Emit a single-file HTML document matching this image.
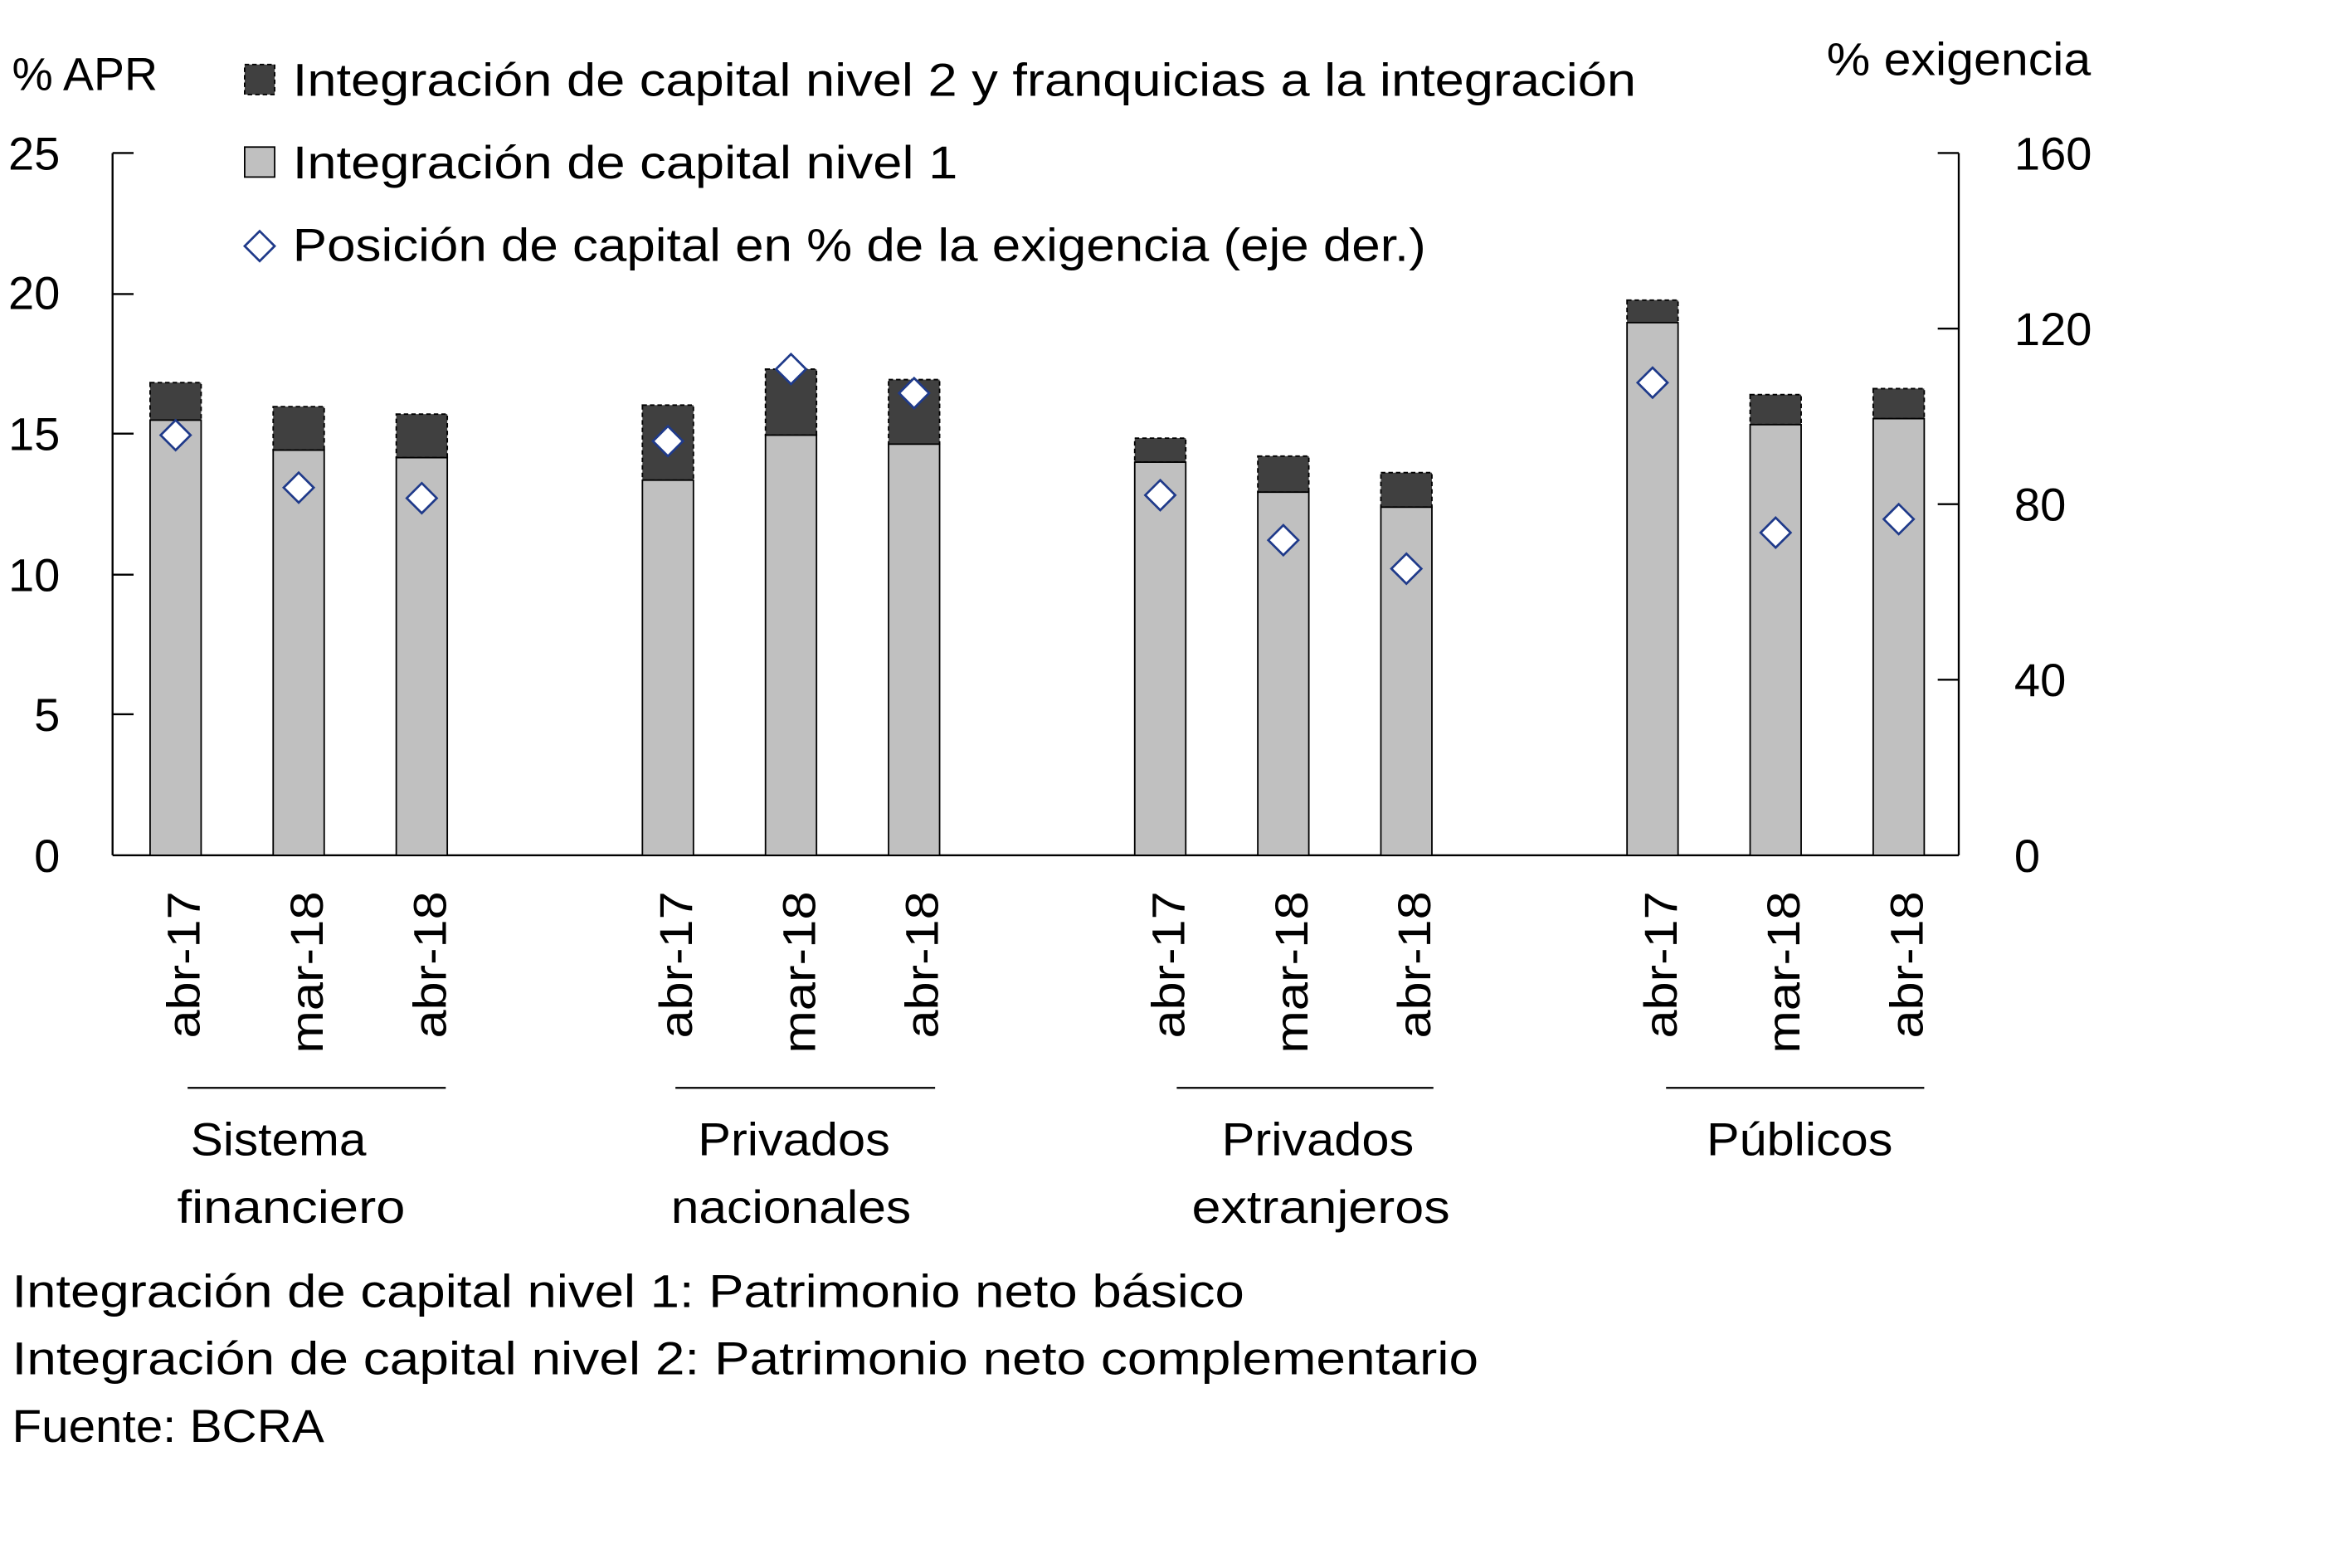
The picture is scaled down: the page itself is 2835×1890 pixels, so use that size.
<!DOCTYPE html>
<html><head><meta charset="utf-8"><style>
html,body{margin:0;padding:0;background:#fff;}
svg{display:block;}
text{font-family:"Liberation Sans",sans-serif;fill:#000;}
</style></head><body>
<svg width="2835" height="1890" viewBox="0 0 1567 1045" preserveAspectRatio="none" xmlns="http://www.w3.org/2000/svg">
<g font-size="31">
<text x="8" y="60" textLength="97" lengthAdjust="spacingAndGlyphs">% APR</text>
<text x="1217" y="50" textLength="176" lengthAdjust="spacingAndGlyphs">% exigencia</text>
<text x="40" y="113" text-anchor="end">25</text>
<text x="40" y="206" text-anchor="end">20</text>
<text x="40" y="300" text-anchor="end">15</text>
<text x="40" y="394" text-anchor="end">10</text>
<text x="40" y="487" text-anchor="end">5</text>
<text x="40" y="581" text-anchor="end">0</text>
<text x="1342" y="113">160</text>
<text x="1342" y="230">120</text>
<text x="1342" y="347">80</text>
<text x="1342" y="464">40</text>
<text x="1342" y="581">0</text>
</g>
<g stroke="#000" stroke-width="1.3" fill="none">
<line x1="75" y1="102" x2="75" y2="570"/>
<line x1="1305" y1="102" x2="1305" y2="570"/>
<line x1="75" y1="570" x2="1305" y2="570"/>
<line x1="75" y1="102" x2="89" y2="102"/><line x1="75" y1="196" x2="89" y2="196"/><line x1="75" y1="289" x2="89" y2="289"/><line x1="75" y1="383" x2="89" y2="383"/><line x1="75" y1="476" x2="89" y2="476"/>
<line x1="1291" y1="102" x2="1305" y2="102"/><line x1="1291" y1="219" x2="1305" y2="219"/><line x1="1291" y1="336" x2="1305" y2="336"/><line x1="1291" y1="453" x2="1305" y2="453"/>
<line x1="125" y1="725" x2="297" y2="725"/><line x1="450" y1="725" x2="623" y2="725"/><line x1="784" y1="725" x2="955" y2="725"/><line x1="1110" y1="725" x2="1282" y2="725"/>
</g>
<g stroke="#000" stroke-width="1">
<rect x="100" y="255" width="34" height="25" fill="#404040" stroke-dasharray="3,2"/><rect x="100" y="280" width="34" height="290" fill="#c0c0c0"/>
<rect x="182" y="271" width="34" height="29" fill="#404040" stroke-dasharray="3,2"/><rect x="182" y="300" width="34" height="270" fill="#c0c0c0"/>
<rect x="264" y="276" width="34" height="29" fill="#404040" stroke-dasharray="3,2"/><rect x="264" y="305" width="34" height="265" fill="#c0c0c0"/>
<rect x="428" y="270" width="34" height="50" fill="#404040" stroke-dasharray="3,2"/><rect x="428" y="320" width="34" height="250" fill="#c0c0c0"/>
<rect x="510" y="246" width="34" height="44" fill="#404040" stroke-dasharray="3,2"/><rect x="510" y="290" width="34" height="280" fill="#c0c0c0"/>
<rect x="592" y="253" width="34" height="43" fill="#404040" stroke-dasharray="3,2"/><rect x="592" y="296" width="34" height="274" fill="#c0c0c0"/>
<rect x="756" y="292" width="34" height="16" fill="#404040" stroke-dasharray="3,2"/><rect x="756" y="308" width="34" height="262" fill="#c0c0c0"/>
<rect x="838" y="304" width="34" height="24" fill="#404040" stroke-dasharray="3,2"/><rect x="838" y="328" width="34" height="242" fill="#c0c0c0"/>
<rect x="920" y="315" width="34" height="23" fill="#404040" stroke-dasharray="3,2"/><rect x="920" y="338" width="34" height="232" fill="#c0c0c0"/>
<rect x="1084" y="200" width="34" height="15" fill="#404040" stroke-dasharray="3,2"/><rect x="1084" y="215" width="34" height="355" fill="#c0c0c0"/>
<rect x="1166" y="263" width="34" height="20" fill="#404040" stroke-dasharray="3,2"/><rect x="1166" y="283" width="34" height="287" fill="#c0c0c0"/>
<rect x="1248" y="259" width="34" height="20" fill="#404040" stroke-dasharray="3,2"/><rect x="1248" y="279" width="34" height="291" fill="#c0c0c0"/>
</g>
<g fill="#fff" stroke="#1f3a8a" stroke-width="1.5">
<path d="M117 280 l10 10 l-10 10 l-10 -10z"/>
<path d="M199 315 l10 10 l-10 10 l-10 -10z"/>
<path d="M281 322 l10 10 l-10 10 l-10 -10z"/>
<path d="M445 284 l10 10 l-10 10 l-10 -10z"/>
<path d="M527 236 l10 10 l-10 10 l-10 -10z"/>
<path d="M609 252 l10 10 l-10 10 l-10 -10z"/>
<path d="M773 320 l10 10 l-10 10 l-10 -10z"/>
<path d="M855 350 l10 10 l-10 10 l-10 -10z"/>
<path d="M937 369 l10 10 l-10 10 l-10 -10z"/>
<path d="M1101 245 l10 10 l-10 10 l-10 -10z"/>
<path d="M1183 345 l10 10 l-10 10 l-10 -10z"/>
<path d="M1265 336 l10 10 l-10 10 l-10 -10z"/>
</g>
<rect x="163" y="43" width="20" height="20" fill="#404040" stroke="#000" stroke-dasharray="3,2"/>
<rect x="163" y="98" width="20" height="20" fill="#c0c0c0" stroke="#000"/>
<path d="M173 154 l10 10 l-10 10 l-10 -10z" fill="#fff" stroke="#1f3a8a" stroke-width="1.5"/>
<g font-size="31">
<text x="195" y="64" textLength="895" lengthAdjust="spacingAndGlyphs">Integración de capital nivel 2 y franquicias a la integración</text>
<text x="195" y="119" textLength="443" lengthAdjust="spacingAndGlyphs">Integración de capital nivel 1</text>
<text x="195" y="174" textLength="755" lengthAdjust="spacingAndGlyphs">Posición de capital en % de la exigencia (eje der.)</text>
</g>
<g font-size="31">
<text transform="translate(133,594) rotate(-90)" text-anchor="end" textLength="98" lengthAdjust="spacingAndGlyphs">abr-17</text>
<text transform="translate(215,594) rotate(-90)" text-anchor="end" textLength="108" lengthAdjust="spacingAndGlyphs">mar-18</text>
<text transform="translate(297,594) rotate(-90)" text-anchor="end" textLength="98" lengthAdjust="spacingAndGlyphs">abr-18</text>
<text transform="translate(461,594) rotate(-90)" text-anchor="end" textLength="98" lengthAdjust="spacingAndGlyphs">abr-17</text>
<text transform="translate(543,594) rotate(-90)" text-anchor="end" textLength="108" lengthAdjust="spacingAndGlyphs">mar-18</text>
<text transform="translate(625,594) rotate(-90)" text-anchor="end" textLength="98" lengthAdjust="spacingAndGlyphs">abr-18</text>
<text transform="translate(789,594) rotate(-90)" text-anchor="end" textLength="98" lengthAdjust="spacingAndGlyphs">abr-17</text>
<text transform="translate(871,594) rotate(-90)" text-anchor="end" textLength="108" lengthAdjust="spacingAndGlyphs">mar-18</text>
<text transform="translate(953,594) rotate(-90)" text-anchor="end" textLength="98" lengthAdjust="spacingAndGlyphs">abr-18</text>
<text transform="translate(1117,594) rotate(-90)" text-anchor="end" textLength="98" lengthAdjust="spacingAndGlyphs">abr-17</text>
<text transform="translate(1199,594) rotate(-90)" text-anchor="end" textLength="108" lengthAdjust="spacingAndGlyphs">mar-18</text>
<text transform="translate(1281,594) rotate(-90)" text-anchor="end" textLength="98" lengthAdjust="spacingAndGlyphs">abr-18</text>
<text x="127" y="770" textLength="117" lengthAdjust="spacingAndGlyphs">Sistema</text>
<text x="118" y="815" textLength="152" lengthAdjust="spacingAndGlyphs">financiero</text>
<text x="465" y="770" textLength="128" lengthAdjust="spacingAndGlyphs">Privados</text>
<text x="447" y="815" textLength="160" lengthAdjust="spacingAndGlyphs">nacionales</text>
<text x="814" y="770" textLength="128" lengthAdjust="spacingAndGlyphs">Privados</text>
<text x="794" y="815" textLength="172" lengthAdjust="spacingAndGlyphs">extranjeros</text>
<text x="1137" y="770" textLength="124" lengthAdjust="spacingAndGlyphs">Públicos</text>
<text x="8" y="871" textLength="821" lengthAdjust="spacingAndGlyphs">Integración de capital nivel 1: Patrimonio neto básico</text>
<text x="8" y="916" textLength="977" lengthAdjust="spacingAndGlyphs">Integración de capital nivel 2: Patrimonio neto complementario</text>
<text x="8" y="961" textLength="208" lengthAdjust="spacingAndGlyphs">Fuente:  BCRA</text>
</g>
</svg>
</body></html>
